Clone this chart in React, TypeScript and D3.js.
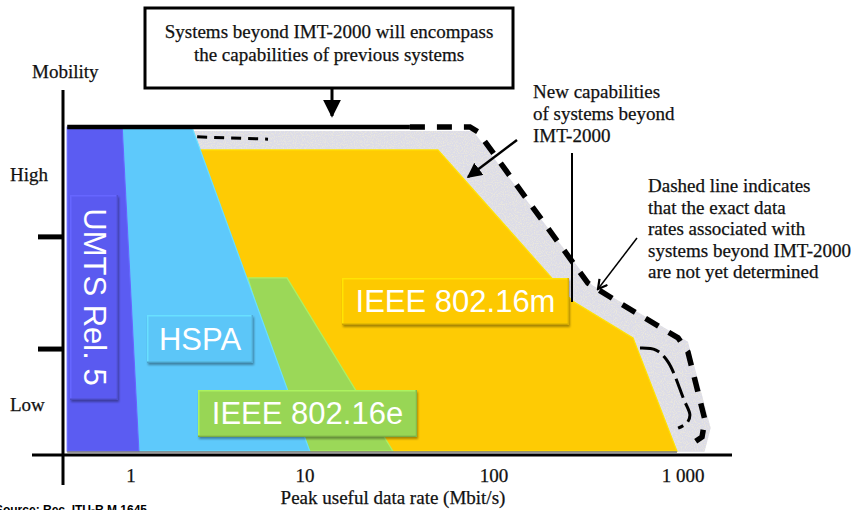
import React from 'react';
import * as d3 from 'd3';

// ---- data (peak data rate in Mbit/s, mobility on a 0..1 scale) ----
const rateTicks = [1, 10, 100, 1000];
const rateTickLabels = ['1', '10', '100', '1 000'];
const mobilityTicks = [0.323, 0.665];
const mobilityLabels = ['High', 'Low'];
const mobilityLabelValues = [0.855, 0.152];

const systemNames = ['UMTS Rel. 5', 'HSPA', 'IEEE 802.16e', 'IEEE 802.16m'];
const systemColors = ['#5b5cf2', '#5ec9fb', '#9bd858', '#fecb04'];

const umtsArea: [number, number][] = [[0.43, 1.0], [0.89, 1.0], [1.11, 0.012], [0.43, 0.012]];
const hspaArea: [number, number][] = [[0.89, 1.0], [2.24, 1.0], [10.6, 0.012], [1.11, 0.012]];
const ieee16eArea: [number, number][] = [[4.7, 0.54], [7.88, 0.54], [29.2, 0.012], [9.36, 0.012]];
const ieee16mArea: [number, number][] = [[2.33, 0.93], [50.5, 0.93], [259, 0.47], [544, 0.357], [929, 0.012], [7.18, 0.012]];

const beyondArea: [number, number][] = [[2.18, 0.988], [77.4, 0.988], [330, 0.518], [1062, 0.345], [1400, 0.082], [1300, 0.01], [2.18, 0.01]];
const beyondSolid: [number, number][] = [[0.43, 1.0], [35.9, 1.0]];
const beyondDashed: [number, number][] = [[35.9, 1.0], [74.6, 1.0], [82.2, 0.985], [314, 0.524], [464, 0.463], [942, 0.357], [1062, 0.314], [1306, 0.107], [1261, 0.055], [1088, 0.03]];
const innerDashedTop: [number, number][] = [[2.4, 0.97], [6.13, 0.963]];
const innerDashedRight: [number, number][] = [[592, 0.326], [719, 0.32], [833, 0.284], [1012, 0.168], [1088, 0.122], [1050, 0.098], [942, 0.082]];

const W = 858;
const H = 510;
const SERIF = "'Liberation Serif', 'Times New Roman', serif";
const SANS = "'Liberation Sans', Arial, sans-serif";
const FS = 19;

export default function App() {
  const x = d3.scaleLog().domain(rateTicks).range([131, 305, 494, 683]);
  const y = d3.scaleLinear().domain([0, 1]).range([455, 127]);
  const line = d3.line<[number, number]>().x(d => x(d[0])).y(d => y(d[1]));
  const area = (pts: [number, number][]) => line(pts) + 'Z';
  const curve = d3.line<[number, number]>().x(d => x(d[0])).y(d => y(d[1])).curve(d3.curveCatmullRom.alpha(0.5));

  const axisX = 63;
  const axisY = y(0);

  const shapes = [
    { pts: ieee16mArea, c: systemColors[3] },
    { pts: ieee16eArea, c: systemColors[2] },
    { pts: hspaArea, c: systemColors[1] },
    { pts: umtsArea, c: systemColors[0] },
  ];

  const box = (bx: number, by: number, bw: number, bh: number, c: string) => (
    <g>
      <rect x={bx} y={by} width={bw} height={bh} fill={c} filter="url(#shadow)" />
      <rect x={bx + 0.75} y={by + 0.75} width={bw - 1.5} height={bh - 1.5} fill="none"
        stroke={d3.color(c)!.brighter(0.35).toString()} strokeWidth={1.5} />
      <line x1={bx} x2={bx + bw} y1={by + bh - 0.75} y2={by + bh - 0.75} stroke={d3.color(c)!.darker(0.6).toString()} strokeWidth={1.5} />
      <line x1={bx + bw - 0.75} x2={bx + bw - 0.75} y1={by} y2={by + bh} stroke={d3.color(c)!.darker(0.4).toString()} strokeWidth={1.5} />
    </g>
  );

  const serifText = { fontFamily: SERIF, fontSize: FS, fill: '#111', stroke: '#111', strokeWidth: 0.25 } as const;

  return (
    <svg width={W} height={H} style={{ position: 'absolute', left: 0, top: 0, background: '#fff' }}>
      <defs>
        <filter id="shadow" x="-10%" y="-10%" width="130%" height="140%">
          <feDropShadow dx="1" dy="2" stdDeviation="1.2" floodColor="#000" floodOpacity="0.35" />
        </filter>
        <filter id="speckle" x="0" y="0" width="100%" height="100%">
          <feTurbulence type="fractalNoise" baseFrequency="0.9" numOctaves="2" seed="3" result="n" />
          <feColorMatrix in="n" type="matrix"
            values="0 0 0 0 0.82  0 0 0 0 0.8  0 0 0 0 0.72  0 0 0 -3 1.75" result="dots" />
          <feComposite in="dots" in2="SourceGraphic" operator="in" result="d2" />
          <feMerge><feMergeNode in="SourceGraphic" /><feMergeNode in="d2" /></feMerge>
        </filter>
        <marker id="tri" viewBox="0 0 10 10" refX="9" refY="5" markerWidth="6" markerHeight="6" orient="auto" markerUnits="strokeWidth">
          <path d="M0,0 L10,5 L0,10 Z" fill="#000" />
        </marker>
        <marker id="chev" viewBox="0 0 12 12" refX="10" refY="6" markerWidth="12" markerHeight="12" orient="auto" markerUnits="userSpaceOnUse">
          <path d="M1,1 L10,6 L1,11" fill="none" stroke="#000" strokeWidth="2.2" />
        </marker>
      </defs>

      {/* beyond IMT-2000 region */}
      <path d={area(beyondArea)} fill="#dcdce8" filter="url(#speckle)" />
      <path d={line(innerDashedTop)!} fill="none" stroke="#000" strokeWidth={3} strokeDasharray="10 7" />
      <path d={curve(innerDashedRight)!} fill="none" stroke="#000" strokeWidth={3} strokeDasharray="20 6" />
      <path d={line(beyondDashed)!} fill="none" stroke="#000" strokeWidth={5.5} strokeDasharray="15 12" />

      {/* system areas */}
      {shapes.map((s, i) => (
        <path key={i} d={area(s.pts)} fill={s.c}
          stroke={d3.color(s.c)!.brighter(0.3).toString()} strokeWidth={1.2} />
      ))}
      <line x1={x(0.43)} x2={x(929)} y1={y(0.012) + 1} y2={y(0.012) + 1} stroke="#777" strokeWidth={1.5} />
      <path d={line(beyondSolid)!} fill="none" stroke="#000" strokeWidth={4.5} />

      {/* axes */}
      <line x1={axisX} x2={axisX} y1={90} y2={485} stroke="#000" strokeWidth={3} />
      <line x1={32} x2={732} y1={axisY} y2={axisY} stroke="#000" strokeWidth={3} />
      {mobilityTicks.map((t, i) => (
        <line key={i} x1={38} x2={axisX} y1={y(t)} y2={y(t)} stroke="#000" strokeWidth={5} />
      ))}
      {mobilityLabels.map((l, i) => (
        <text key={l} x={10} y={y(mobilityLabelValues[i]) + 6} {...serifText}>{l}</text>
      ))}
      <text x={32} y={78} {...serifText}>Mobility</text>
      {rateTicks.map((t, i) => (
        <text key={t} x={x(t)} y={482} textAnchor="middle" {...serifText}>{rateTickLabels[i]}</text>
      ))}
      <text x={393} y={504} textAnchor="middle" {...serifText}>Peak useful data rate (Mbit/s)</text>

      {/* system labels */}
      {box(70, 195, 48, 205, '#5a5af0')}
      <text transform="translate(84,297) rotate(90)" textAnchor="middle" fontFamily={SANS} fontSize={31} fill="#fff">{systemNames[0]}</text>
      {box(147, 315, 106, 48, '#5cc6f8')}
      <text x={200} y={350} textAnchor="middle" fontFamily={SANS} fontSize={31} fill="#fff">{systemNames[1]}</text>
      {box(198, 390, 219, 47, '#98d655')}
      <text x={307.5} y={424} textAnchor="middle" fontFamily={SANS} fontSize={31} fill="#fff">{systemNames[2]}</text>
      {box(342, 278, 227, 47, '#fdc903')}
      <text x={455.5} y={312} textAnchor="middle" fontFamily={SANS} fontSize={31} fill="#fff">{systemNames[3]}</text>

      {/* top annotation */}
      <rect x={145} y={8} width={368} height={80} fill="#fff" stroke="#000" strokeWidth={3} />
      <text x={329} y={38} textAnchor="middle" {...serifText}>Systems beyond IMT-2000 will encompass</text>
      <text x={329} y={61} textAnchor="middle" {...serifText}>the capabilities of previous systems</text>
      <line x1={332} x2={332} y1={89} y2={116} stroke="#000" strokeWidth={3} markerEnd="url(#tri)" />

      {/* right annotations */}
      {['New capabilities', 'of systems beyond', 'IMT-2000'].map((t, i) => (
        <text key={t} x={533} y={98 + i * 22} {...serifText}>{t}</text>
      ))}
      <line x1={517} x2={468} y1={140} y2={177} stroke="#000" strokeWidth={2.5} markerEnd="url(#tri)" />
      <line x1={572} x2={572} y1={153} y2={302} stroke="#000" strokeWidth={2} />
      {['Dashed line indicates', 'that the exact data', 'rates associated with', 'systems beyond IMT-2000', 'are not yet determined'].map((t, i) => (
        <text key={t} x={648} y={192 + i * 21.6} {...serifText}>{t}</text>
      ))}
      <line x1={637} x2={598} y1={238} y2={289} stroke="#000" strokeWidth={1.5} markerEnd="url(#chev)" />

      <text x={147} y={514} textAnchor="end" fontFamily={SANS} fontWeight="bold" fontSize={12} fill="#000">Source: Rec. ITU-R M.1645</text>
    </svg>
  );
}
